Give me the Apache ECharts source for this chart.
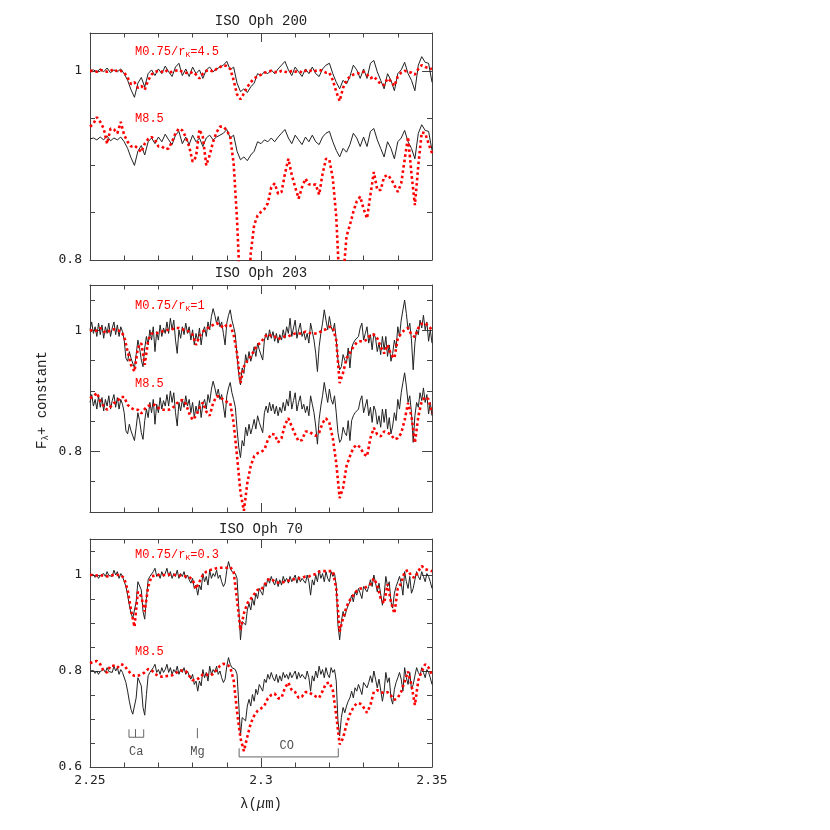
<!DOCTYPE html>
<html>
<head>
<meta charset="utf-8">
<script src="https://cdn.jsdelivr.net/npm/echarts@6.0.0/dist/echarts.min.js"></script>
<style>
  html, body { margin: 0; padding: 0; background: #fff; }
  #main { width: 830px; height: 830px; }
</style>
</head>
<body>
<div id="main"></div>
<script>
// wavelength grid (micron): spectra sampled from 2.25 with a fixed step
var LAM0 = 2.25;
var STEP = 0.001;      // models and ISO Oph 200
var STEP_FINE = 0.0005; // ISO Oph 203 / ISO Oph 70 observed spectra

// ---- ISO Oph 200 ----
var oph200Flux = [
  1.000, 1.001, 0.999, 1.002, 0.999, 1.003, 0.998, 1.001, 0.999, 1.002,
  0.997, 0.990, 0.980, 0.972, 0.987, 0.993, 0.983, 0.997, 1.001, 0.995,
  1.002, 0.997, 1.005, 0.999, 0.994, 1.004, 1.008, 0.995, 1.002, 0.994,
  1.004, 0.997, 1.001, 0.992, 1.001, 1.004, 0.999, 1.002, 1.004, 1.006,
  1.010, 1.001, 1.004, 0.987, 0.978, 0.981, 0.977, 0.983, 0.987, 0.997,
  0.995, 0.999, 0.997, 1.001, 0.997, 1.002, 1.006, 1.010, 1.001, 0.995,
  1.004, 0.999, 0.994, 1.002, 0.997, 1.004, 0.997, 0.994, 1.002, 1.006,
  1.008, 0.997, 0.988, 0.981, 0.990, 0.986, 0.994, 1.006, 1.001, 0.992,
  1.002, 0.992, 1.008, 1.011, 0.999, 0.990, 0.981, 0.997, 0.990, 0.979,
  0.997, 1.001, 1.009, 0.997, 0.990, 0.979, 1.006, 1.015, 1.009, 1.008, 0.988
];
var m075r45 = [
  1.000, 1.000, 0.999, 1.001, 1.000, 0.999, 1.000, 1.002, 0.999, 1.000,
  0.998, 0.993, 0.986, 0.988, 0.982, 0.984, 0.980, 0.990, 0.996, 0.999,
  1.000, 0.999, 1.001, 0.998, 0.999, 1.000, 1.001, 0.999, 0.998, 0.997,
  0.999, 0.996, 0.992, 0.997, 1.000, 1.001, 0.999, 1.002, 1.004, 1.006,
  1.005, 1.002, 0.990, 0.975, 0.970, 0.976, 0.983, 0.988, 0.992, 0.994,
  0.996, 0.998, 0.999, 1.000, 0.999, 0.998, 1.000, 0.999, 0.998, 1.000,
  0.999, 1.000, 0.998, 1.000, 1.001, 0.999, 1.000, 1.001, 1.000, 0.998,
  0.998, 0.990, 0.978, 0.968, 0.982, 0.990, 0.994, 0.996, 0.997, 0.998,
  0.999, 0.996, 0.992, 0.994, 0.990, 0.986, 0.985, 0.992, 0.989, 0.984,
  0.994, 0.998, 1.000, 0.999, 0.998, 0.996, 1.002, 1.006, 1.004, 1.003, 1.002
];
var m85Oph200 = [
  0.941, 0.944, 0.951, 0.946, 0.939, 0.923, 0.939, 0.938, 0.934, 0.946,
  0.932, 0.925, 0.920, 0.921, 0.918, 0.914, 0.923, 0.928, 0.930, 0.927,
  0.920, 0.920, 0.917, 0.918, 0.925, 0.934, 0.939, 0.937, 0.930, 0.920,
  0.904, 0.909, 0.938, 0.930, 0.900, 0.911, 0.925, 0.935, 0.941, 0.941,
  0.937, 0.930, 0.902, 0.842, 0.760, 0.720, 0.740, 0.807, 0.837, 0.847,
  0.851, 0.854, 0.860, 0.877, 0.881, 0.870, 0.872, 0.891, 0.907, 0.890,
  0.877, 0.865, 0.877, 0.886, 0.880, 0.879, 0.880, 0.869, 0.891, 0.907,
  0.906, 0.886, 0.846, 0.770, 0.780, 0.825, 0.837, 0.851, 0.862, 0.867,
  0.854, 0.844, 0.869, 0.893, 0.874, 0.874, 0.888, 0.890, 0.886, 0.879,
  0.872, 0.881, 0.906, 0.930, 0.891, 0.858, 0.900, 0.935, 0.934, 0.923, 0.913
];
var oph200Shift = 0.072;

// ---- ISO Oph 203 ----
var oph203Flux = [
  1.001, 1.014, 0.995, 1.006, 0.990, 1.012, 0.993, 1.009, 0.987, 1.006,
  0.995, 1.012, 0.990, 1.004, 1.014, 0.993, 1.009, 0.990, 1.006, 0.998,
  0.984, 0.954, 0.949, 0.965, 0.954, 0.957, 0.938, 0.960, 0.984, 0.971,
  0.951, 0.940, 0.971, 0.990, 0.976, 1.001, 0.984, 1.006, 0.965, 0.998,
  0.984, 1.009, 0.990, 1.004, 0.995, 1.014, 0.995, 1.020, 1.001, 1.017,
  0.984, 0.962, 1.001, 0.987, 1.006, 0.993, 1.012, 0.995, 1.006, 0.984,
  1.001, 0.976, 0.995, 0.982, 1.004, 0.976, 0.998, 1.006, 0.990, 1.014,
  1.001, 1.023, 1.036, 1.025, 1.012, 1.023, 1.006, 1.014, 0.995, 0.976,
  1.012, 1.025, 1.034, 1.017, 1.006, 0.993, 0.957, 0.927, 0.910, 0.938,
  0.929, 0.960, 0.946, 0.965, 0.949, 0.960, 0.973, 0.957, 0.979, 0.968,
  0.971, 0.951, 0.984, 0.995, 0.984, 1.001, 0.987, 0.998, 0.982, 0.995,
  0.979, 0.993, 0.984, 1.001, 0.987, 1.006, 0.995, 1.020, 0.990, 1.004,
  1.017, 0.987, 1.001, 1.012, 0.990, 0.998, 0.984, 0.995, 0.979, 1.012,
  0.998, 0.984, 0.962, 0.932, 0.973, 0.995, 1.012, 1.034, 1.017, 1.001,
  1.023, 1.006, 0.998, 1.012, 0.984, 0.951, 0.935, 0.940, 0.960, 0.951,
  0.946, 0.971, 0.938, 0.971, 0.979, 0.984, 0.982, 0.990, 1.004, 1.012,
  0.984, 0.995, 1.006, 0.979, 0.993, 0.968, 0.995, 0.987, 0.965, 0.979,
  0.960, 0.990, 0.968, 0.990, 0.957, 0.976, 0.949, 0.962, 0.984, 0.971,
  1.006, 0.990, 1.017, 1.034, 1.050, 1.028, 1.001, 1.012, 0.984, 0.935,
  0.979, 1.001, 0.993, 1.017, 1.004, 1.025, 1.001, 1.014, 0.982, 1.001, 0.979
];
var m075r1 = [
  1.001, 0.998, 1.000, 1.004, 0.998, 0.996, 1.001, 1.002, 1.000, 0.999,
  0.990, 0.965, 0.943, 0.932, 0.971, 0.979, 0.943, 0.984, 0.995, 0.995,
  0.996, 0.998, 1.000, 1.001, 1.002, 1.004, 1.004, 1.002, 1.000, 0.998,
  0.993, 0.976, 0.990, 0.998, 1.002, 1.006, 1.009, 1.012, 1.009, 1.004,
  1.009, 1.009, 0.993, 0.962, 0.913, 0.940, 0.950, 0.957, 0.967, 0.976,
  0.980, 0.989, 0.994, 0.991, 0.990, 0.985, 0.989, 0.990, 0.990, 0.993,
  0.995, 0.995, 0.995, 0.998, 0.996, 0.995, 0.995, 0.996, 1.000, 1.002,
  1.006, 1.005, 0.984, 0.913, 0.930, 0.954, 0.963, 0.973, 0.980, 0.982,
  0.982, 0.985, 0.993, 0.993, 0.987, 0.973, 0.962, 0.976, 0.960, 0.954,
  0.987, 0.995, 1.001, 1.004, 0.993, 0.989, 1.004, 1.011, 1.012, 1.007, 1.001
];
var m85Oph203 = [
  0.888, 0.891, 0.897, 0.883, 0.875, 0.869, 0.874, 0.880, 0.883, 0.890,
  0.890, 0.877, 0.872, 0.869, 0.869, 0.863, 0.870, 0.875, 0.877, 0.877,
  0.872, 0.869, 0.869, 0.869, 0.871, 0.877, 0.883, 0.885, 0.879, 0.863,
  0.852, 0.859, 0.872, 0.881, 0.866, 0.859, 0.880, 0.891, 0.891, 0.885,
  0.882, 0.880, 0.847, 0.792, 0.732, 0.702, 0.748, 0.776, 0.792, 0.797,
  0.799, 0.803, 0.819, 0.829, 0.828, 0.815, 0.822, 0.844, 0.855, 0.841,
  0.828, 0.817, 0.819, 0.833, 0.833, 0.829, 0.826, 0.831, 0.847, 0.855,
  0.847, 0.822, 0.781, 0.723, 0.740, 0.776, 0.792, 0.806, 0.811, 0.807,
  0.796, 0.792, 0.822, 0.839, 0.828, 0.825, 0.833, 0.831, 0.828, 0.820,
  0.822, 0.830, 0.852, 0.880, 0.858, 0.814, 0.858, 0.883, 0.890, 0.886, 0.863
];
var oph203Shift = 0.12;

// ---- ISO Oph 70 ----
var oph70Flux = [
  1.000, 0.997, 1.001, 0.995, 1.000, 0.993, 0.999, 0.996, 1.003, 0.997,
  1.007, 0.999, 1.003, 0.997, 1.010, 1.000, 1.007, 0.993, 1.003, 0.997,
  0.993, 0.976, 0.958, 0.937, 0.920, 0.910, 0.913, 0.944, 0.986, 0.990,
  0.969, 0.924, 0.908, 0.951, 0.990, 0.997, 1.000, 1.007, 1.014, 0.997,
  1.003, 0.993, 1.007, 0.997, 1.003, 1.014, 0.997, 1.007, 0.993, 1.003,
  0.997, 1.010, 0.993, 1.003, 0.997, 1.007, 0.993, 1.000, 0.990, 0.983,
  0.993, 0.972, 0.979, 0.958, 0.979, 0.969, 1.003, 0.986, 0.997, 0.979,
  1.010, 0.993, 1.003, 0.997, 1.010, 0.993, 1.000, 0.986, 0.976, 0.983,
  1.010, 1.028, 1.014, 1.007, 1.010, 1.003, 0.993, 0.931, 0.865, 0.903,
  0.906, 0.896, 0.927, 0.941, 0.927, 0.951, 0.937, 0.962, 0.951, 0.972,
  0.965, 0.958, 0.983, 0.976, 0.993, 0.983, 0.997, 0.986, 0.979, 0.993,
  0.976, 0.990, 0.979, 0.997, 0.986, 0.993, 0.983, 0.997, 0.986, 0.993,
  1.000, 0.983, 0.997, 0.986, 0.993, 0.997, 0.983, 1.000, 0.986, 0.958,
  0.990, 0.979, 1.000, 0.986, 1.010, 0.993, 1.003, 0.986, 1.007, 0.993,
  0.986, 1.007, 0.997, 1.003, 0.979, 0.896, 0.865, 0.903, 0.924, 0.913,
  0.927, 0.937, 0.944, 0.958, 0.944, 0.965, 0.958, 0.972, 0.962, 0.951,
  0.976, 0.979, 0.965, 0.976, 0.990, 0.976, 1.000, 0.983, 0.965, 0.983,
  0.986, 0.937, 0.958, 0.997, 0.976, 0.986, 0.944, 0.931, 0.962, 0.976,
  0.986, 0.997, 0.983, 0.958, 1.007, 0.986, 0.972, 0.997, 0.962, 0.972,
  0.990, 1.007, 0.997, 0.990, 1.007, 0.997, 0.986, 1.003, 0.997, 0.986, 0.972
];
var m075r03 = [
  1.000, 1.000, 0.999, 1.000, 0.998, 0.997, 0.999, 1.000, 1.000, 1.000,
  0.993, 0.969, 0.927, 0.892, 0.965, 0.955, 0.924, 0.976, 0.997, 0.999,
  1.000, 1.000, 1.000, 1.001, 1.000, 1.000, 0.999, 0.999, 0.997, 0.996,
  0.990, 0.971, 0.986, 1.000, 1.007, 1.010, 1.012, 1.014, 1.015, 1.015,
  1.015, 1.017, 1.007, 0.948, 0.885, 0.920, 0.941, 0.950, 0.960, 0.969,
  0.969, 0.979, 0.990, 0.992, 0.986, 0.984, 0.984, 0.986, 0.988, 0.990,
  0.992, 0.993, 0.994, 0.997, 0.997, 1.000, 1.002, 1.007, 1.008, 1.008,
  1.008, 1.008, 0.972, 0.882, 0.910, 0.934, 0.948, 0.958, 0.967, 0.972,
  0.972, 0.976, 0.981, 0.993, 0.979, 0.951, 0.941, 0.981, 0.944, 0.920,
  0.972, 0.983, 1.007, 1.010, 0.997, 0.994, 1.008, 1.019, 1.012, 1.010, 1.008
];
var m85Oph70 = [
  0.816, 0.819, 0.821, 0.814, 0.800, 0.797, 0.811, 0.811, 0.807, 0.814,
  0.812, 0.802, 0.794, 0.790, 0.790, 0.793, 0.797, 0.804, 0.802, 0.794,
  0.790, 0.788, 0.789, 0.790, 0.791, 0.795, 0.800, 0.801, 0.800, 0.790,
  0.781, 0.781, 0.786, 0.793, 0.793, 0.790, 0.794, 0.802, 0.811, 0.815,
  0.814, 0.808, 0.781, 0.715, 0.660, 0.633, 0.663, 0.691, 0.707, 0.717,
  0.722, 0.728, 0.743, 0.750, 0.753, 0.743, 0.744, 0.765, 0.776, 0.760,
  0.756, 0.744, 0.747, 0.756, 0.756, 0.751, 0.747, 0.744, 0.758, 0.774,
  0.776, 0.760, 0.708, 0.647, 0.660, 0.689, 0.710, 0.724, 0.733, 0.732,
  0.724, 0.713, 0.729, 0.757, 0.760, 0.756, 0.754, 0.756, 0.749, 0.740,
  0.744, 0.757, 0.778, 0.799, 0.771, 0.729, 0.781, 0.799, 0.814, 0.807, 0.792
];
var oph70Shift = 0.2;

// line identifications (bottom panel)
var caLines = [2.2614, 2.2633, 2.2657];
var caLevels = [0.662, 0.6785];
var mgLine = 2.2814;
var mgLevels = [0.660, 0.681];
var coBand = [2.2936, 2.3226];
var coLevels = [0.621, 0.639];
var idLabels = [
  { name: 'Ca', value: [2.2635, 0.632] },
  { name: 'Mg', value: [2.2814, 0.631] },
  { name: 'CO', value: [2.3075, 0.644] }
];

// panel setup
var panelTitles = ['ISO Oph 200', 'ISO Oph 203', 'ISO Oph 70'];
var yRanges = [[0.8, 1.04], [0.7, 1.075], [0.6, 1.075]];
var yMajors = [[0.8, 1], [0.8, 1], [0.6, 0.8, 1]];
var modelLabels = [['4.5', 'M8.5'], ['1', 'M8.5'], ['0.3', 'M8.5']];

var AXIS = '#444';
var INK = '#222';
var RED = '#ff0000';
var MONO = '"Liberation Mono", "DejaVu Sans Mono", monospace';
var NUM = '"DejaVu Sans Mono", monospace';

var gridBoxes = [
  { left: 90, width: 342, top: 33, height: 227 },
  { left: 90, width: 342, top: 285, height: 227 },
  { left: 90, width: 342, top: 539, height: 228 }
];

function toPairs(flux, step, shift) {
  return flux.map(function (f, i) {
    return [+(LAM0 + i * step).toFixed(4), +(f - shift).toFixed(4)];
  });
}

var xAxes = [];
var yAxes = [];
for (var g = 0; g < 3; g++) {
  ['bottom', 'top'].forEach(function (pos) {
    var isLabelled = g === 2 && pos === 'bottom';
    xAxes.push({
      type: 'value', gridIndex: g, position: pos,
      min: 2.25, max: 2.35, interval: 0.05,
      axisLine: { show: true, onZero: false, lineStyle: { color: AXIS, width: 1 } },
      axisTick: { show: true, inside: true, length: 9, lineStyle: { color: AXIS } },
      minorTick: { show: true, splitNumber: 5, length: 4.5, lineStyle: { color: AXIS } },
      splitLine: { show: false },
      axisLabel: { show: isLabelled, color: INK, fontFamily: NUM, fontSize: 13, margin: 7 },
      name: isLabelled ? '{n|λ(}{i|μ}{n|m)}' : '',
      nameLocation: 'middle', nameGap: 30,
      nameTextStyle: {
        rich: {
          n: { fontFamily: MONO, fontSize: 14, color: INK },
          i: { fontFamily: MONO, fontSize: 14, color: INK, fontStyle: 'italic' }
        }
      }
    });
  });
  ['left', 'right'].forEach(function (pos) {
    // minor ticks every 0.05
    yAxes.push({
      type: 'value', gridIndex: g, position: pos,
      min: yRanges[g][0], max: yRanges[g][1], interval: 0.05,
      axisLine: { show: true, onZero: false, lineStyle: { color: AXIS, width: 1 } },
      axisTick: { show: true, inside: true, length: 5, lineStyle: { color: AXIS } },
      axisLabel: { show: false },
      splitLine: { show: false }
    });
    // major ticks + labels
    yAxes.push({
      type: 'value', gridIndex: g, position: pos,
      min: yRanges[g][0], max: yRanges[g][1],
      axisLine: { show: false },
      axisTick: { show: true, inside: true, length: 10, customValues: yMajors[g], lineStyle: { color: AXIS } },
      axisLabel: {
        show: pos === 'left', customValues: yMajors[g], color: INK,
        fontFamily: NUM, fontSize: 13, margin: 8,
        formatter: function (v) { return String(Math.round(v * 10) / 10); }
      },
      splitLine: { show: false }
    });
  });
}

function spectrum(g, flux, step, shift) {
  return {
    type: 'line', xAxisIndex: 2 * g, yAxisIndex: 4 * g,
    data: toPairs(flux, step, shift), showSymbol: false, symbol: 'none',
    lineStyle: { color: INK, width: 1 }, silent: true, z: 2
  };
}
function model(g, flux) {
  return {
    type: 'line', xAxisIndex: 2 * g, yAxisIndex: 4 * g,
    data: toPairs(flux, STEP, 0), showSymbol: false, symbol: 'none',
    lineStyle: { color: RED, width: 2.6, type: [2.6, 2.8], cap: 'butt' }, silent: true, z: 3
  };
}
function bracket(points) {
  return {
    type: 'line', xAxisIndex: 4, yAxisIndex: 8, data: points,
    showSymbol: false, symbol: 'none', silent: true,
    lineStyle: { color: '#666', width: 1 }, z: 4
  };
}

var series = [
  spectrum(0, oph200Flux, STEP, 0),
  spectrum(0, oph200Flux, STEP, oph200Shift),
  model(0, m075r45),
  model(0, m85Oph200),
  spectrum(1, oph203Flux, STEP_FINE, 0),
  spectrum(1, oph203Flux, STEP_FINE, oph203Shift),
  model(1, m075r1),
  model(1, m85Oph203),
  spectrum(2, oph70Flux, STEP_FINE, 0),
  spectrum(2, oph70Flux, STEP_FINE, oph70Shift),
  model(2, m075r03),
  model(2, m85Oph70),
  bracket([
    [caLines[0], caLevels[1]], [caLines[0], caLevels[0]],
    [caLines[1], caLevels[0]], [caLines[1], caLevels[1]], [caLines[1], caLevels[0]],
    [caLines[2], caLevels[0]], [caLines[2], caLevels[1]]
  ]),
  bracket([[mgLine, mgLevels[0]], [mgLine, mgLevels[1]]]),
  bracket([
    [coBand[0], coLevels[1]], [coBand[0], coLevels[0]],
    [coBand[1], coLevels[0]], [coBand[1], coLevels[1]]
  ]),
  {
    type: 'scatter', xAxisIndex: 4, yAxisIndex: 8, data: idLabels,
    symbolSize: 0, silent: true,
    label: {
      show: true, position: 'inside', formatter: '{b}',
      color: INK, fontFamily: MONO, fontSize: 12
    }
  }
];

// titles and model labels
var titleY = [21.5, 273.5, 529.5];
var labelY = [[52, 119], [306, 384], [555, 652]];
var graphics = [];
var redRich = {
  n: { fontFamily: MONO, fontSize: 12, lineHeight: 13, verticalAlign: 'top', fill: RED },
  s: { fontFamily: MONO, fontSize: 8, lineHeight: 8, verticalAlign: 'bottom', fill: RED }
};
for (var p = 0; p < 3; p++) {
  graphics.push({
    type: 'text', x: 261, y: titleY[p], silent: true,
    style: { text: panelTitles[p], fill: INK, font: '14px ' + MONO, align: 'center', verticalAlign: 'middle' }
  });
  graphics.push({
    type: 'text', x: 135, y: labelY[p][0], silent: true,
    style: {
      text: '{n|M0.75/r}{s|K}{n|=' + modelLabels[p][0] + '}',
      rich: redRich, fill: RED, align: 'left', verticalAlign: 'middle'
    }
  });
  graphics.push({
    type: 'text', x: 135, y: labelY[p][1], silent: true,
    style: { text: modelLabels[p][1], fill: RED, font: '12px ' + MONO, align: 'left', verticalAlign: 'middle' }
  });
}
graphics.push({
  type: 'text', x: 43, y: 400, rotation: Math.PI / 2, silent: true,
  style: {
    text: '{n|F}{s|λ}{n|+ constant}',
    rich: {
      n: { fontFamily: MONO, fontSize: 14, lineHeight: 15, verticalAlign: 'top', fill: INK },
      s: { fontFamily: MONO, fontSize: 9, lineHeight: 9, verticalAlign: 'bottom', fill: INK }
    },
    fill: INK, align: 'center', verticalAlign: 'middle'
  }
});

var chart = echarts.init(document.getElementById('main'));
chart.setOption({
  animation: false,
  backgroundColor: '#fff',
  grid: gridBoxes,
  xAxis: xAxes,
  yAxis: yAxes,
  series: series,
  graphic: graphics
});
</script>
</body>
</html>
